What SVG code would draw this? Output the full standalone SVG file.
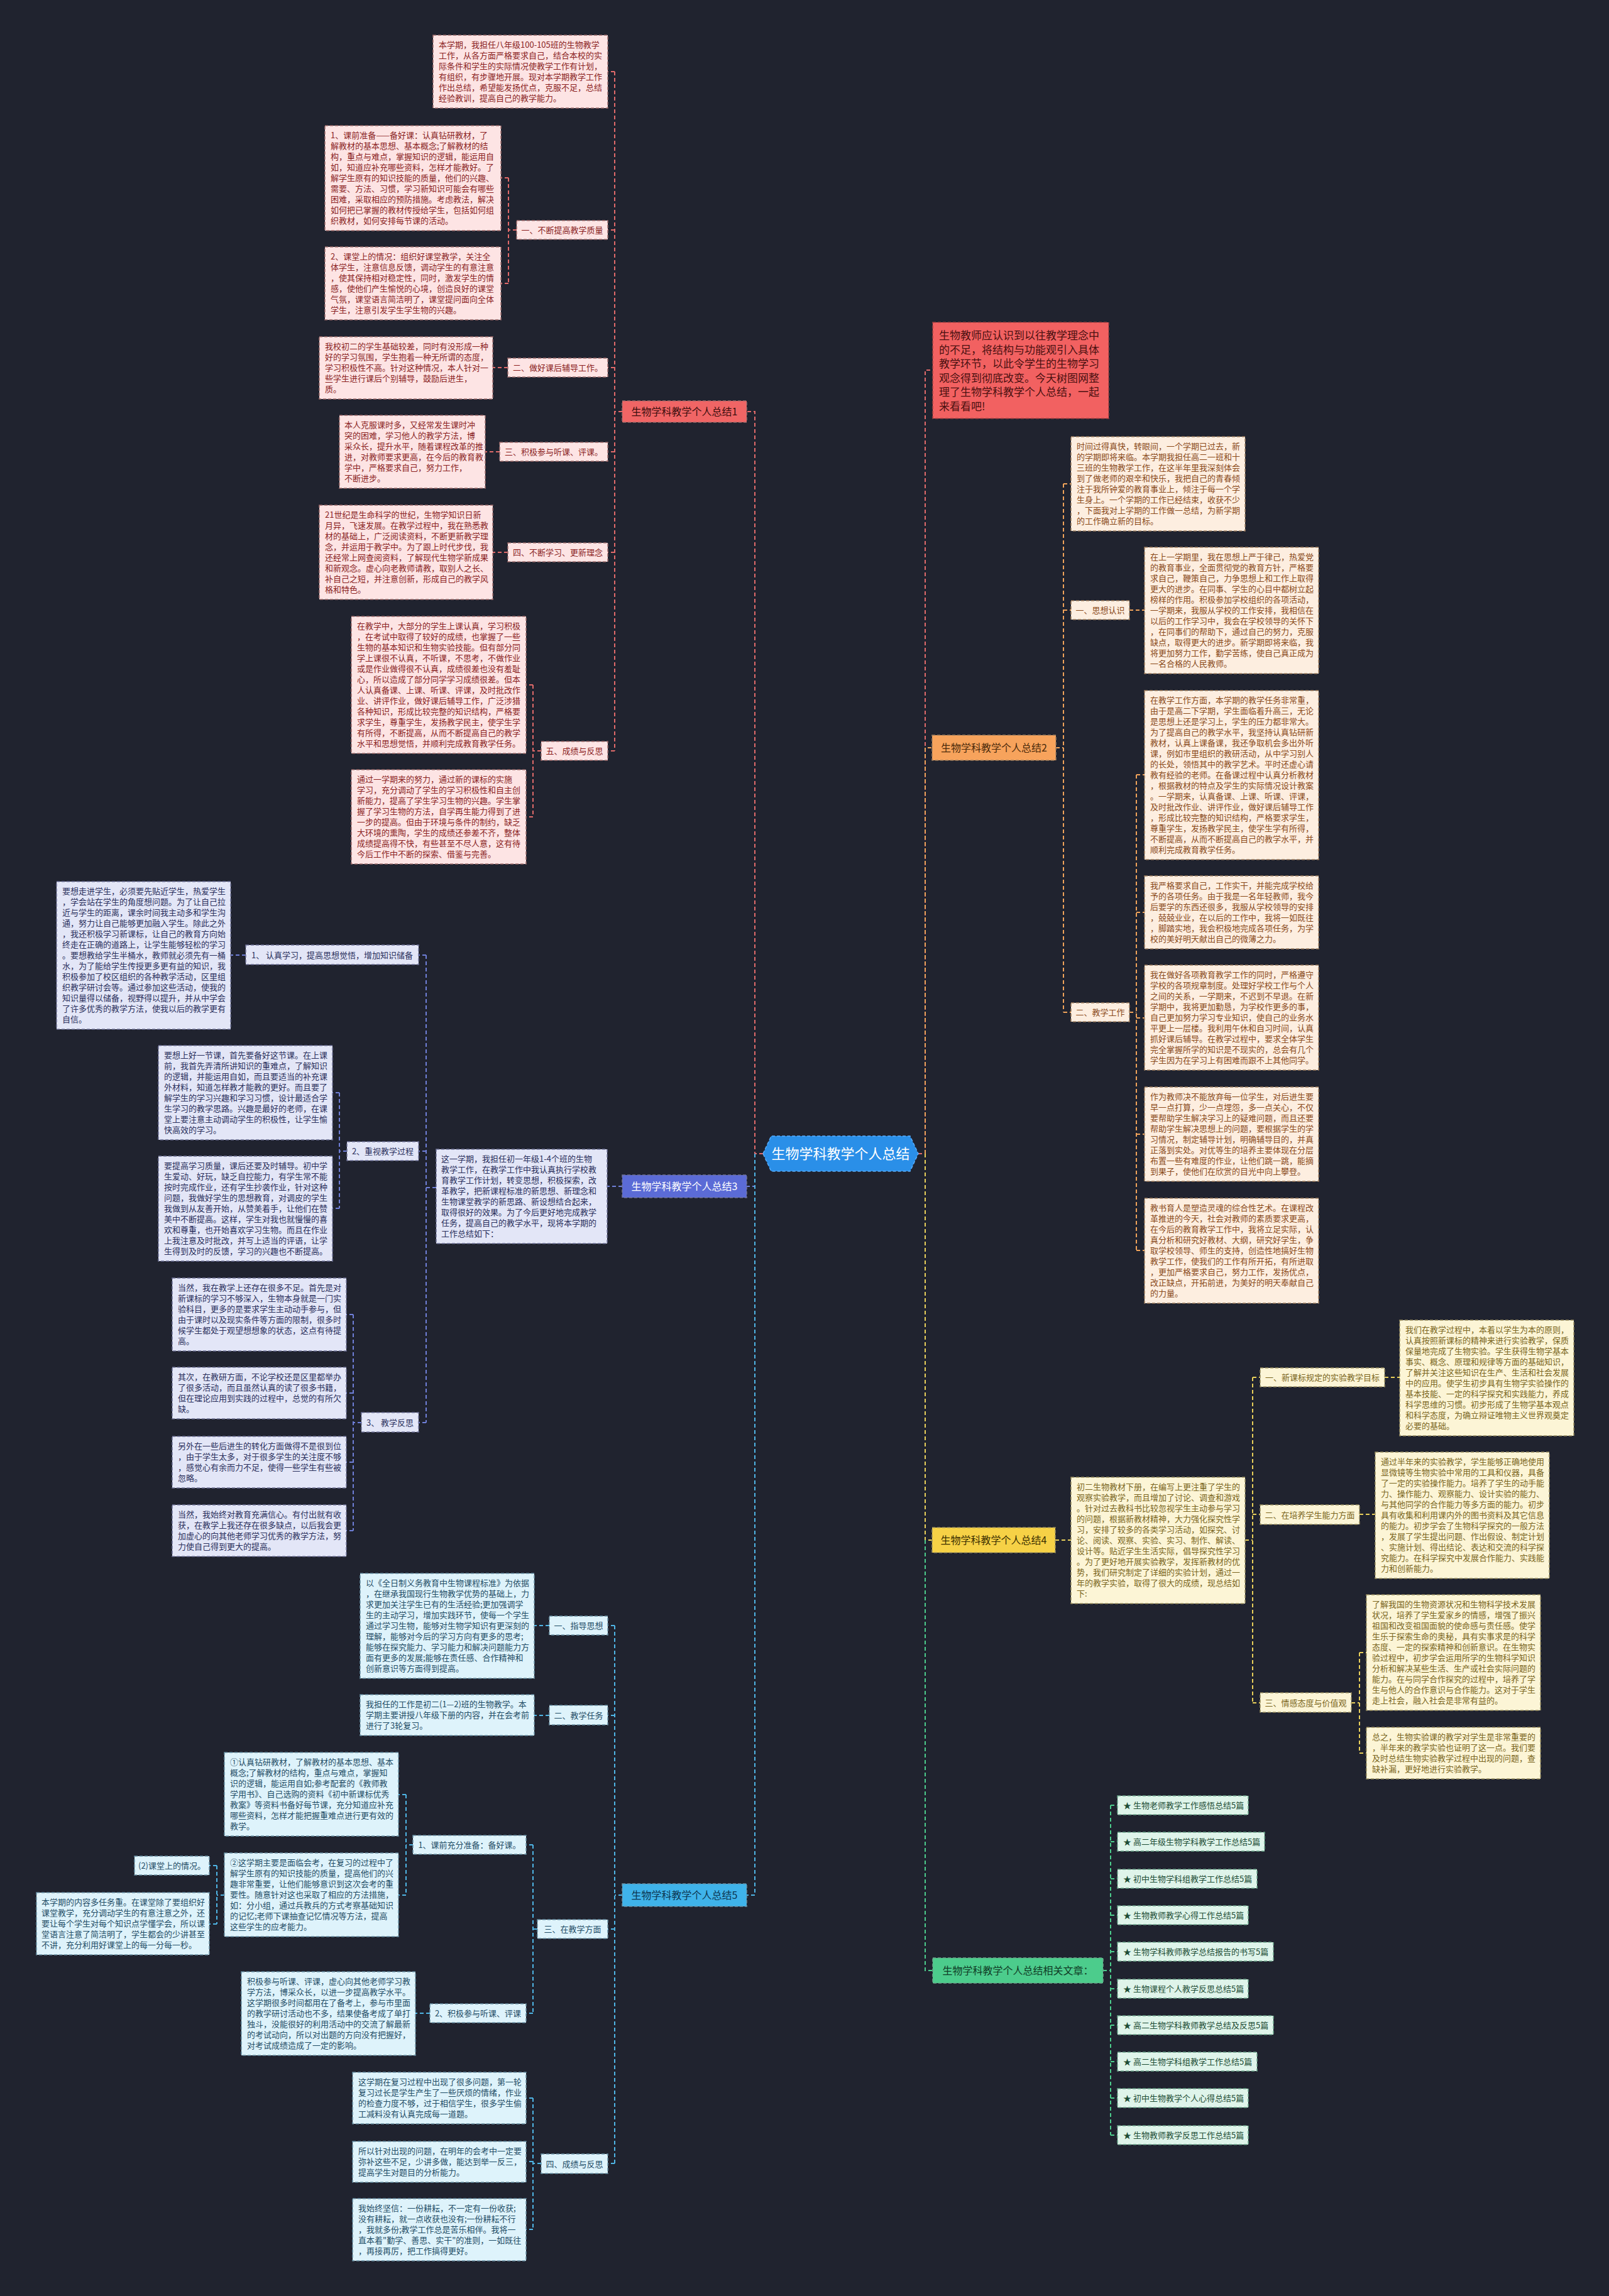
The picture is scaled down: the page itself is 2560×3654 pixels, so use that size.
<svg xmlns="http://www.w3.org/2000/svg" width="2560" height="3654" viewBox="0 0 2560 3654">
<style>
text{font-family:"Noto Sans CJK SC","Noto Sans",sans-serif;font-size:13px}
.c{fill:none;stroke-width:2;stroke-dasharray:6 4}
.c1{stroke:#e06a6a}.c2{stroke:#f0a35a}.c3{stroke:#6f7fd8}.c4{stroke:#e8cf5a}.c5{stroke:#4fb5e5}.c6{stroke:#4ccc8c}
rect{stroke-width:1.5;stroke-dasharray:5 3}
.n1 rect{fill:#fde4e4;stroke:#a06e6e}.n1 text{fill:#8b1f1f}
.n2 rect{fill:#fdeee0;stroke:#a08060}.n2 text{fill:#8a4a1a}
.n3 rect{fill:#e3e6f7;stroke:#70749a}.n3 text{fill:#2a2f5c}
.n4 rect{fill:#fcf5d6;stroke:#9a9060}.n4 text{fill:#7a6520}
.n5 rect{fill:#def3fb;stroke:#6a93a6}.n5 text{fill:#1f4d66}
.n6 rect{fill:#dff4ea;stroke:#6aa68a}.n6 text{fill:#1d4d35}
.m text{font-size:16px;text-anchor:middle}
.lab text{text-anchor:middle}
</style>
<rect x="0" y="0" width="2560" height="3654" fill="#20232f" style="stroke:none"/>
<g id="connectors">
<path class="c c1" d="M1214 1836 H1201 V655 H1188 M990 655 H978 M978 114 V1195 M978 114 H967 M978 366 H967 M978 585 H967 M978 719 H967 M978 879 H967 M978 1195 H967 M822 366 H809 M809 283 V451 M809 283 H797 M809 451 H797 M808 585 H784 M795 719 H772 M808 879 H784 M861 1195 H848 M848 1090 V1300 M848 1090 H837 M848 1300 H837"/>
<path class="c c3" d="M1201 1836 V1888 H1188 M990 1888 H966 M694 1890 H678 M678 1520 V2264 M678 1520 H666 M678 1832 H666 M678 2264 H666 M391 1520 H367 M552 1832 H540 M540 1739 V1923 M540 1739 H529 M540 1923 H529 M575 2264 H562 M562 2092 V2436 M562 2092 H551 M562 2217 H551 M562 2327 H551 M562 2436 H551"/>
<path class="c c5" d="M1201 1836 V3016 H1188 M990 3016 H978 M978 2587 V3443 M978 2587 H967 M978 2730 H967 M978 3070 H967 M978 3443 H967 M874 2587 H850 M874 2730 H850 M855 3070 H848 M848 2936 V3204 M848 2936 H837 M848 3204 H837 M657 2936 H646 M646 2856 V3016 M646 2856 H634 M646 3016 H634 M357 3016 H345 M345 2969 V3062 M345 2969 H333 M345 3062 H333 M684 3204 H661 M861 3443 H848 M848 3339 V3548 M848 3339 H837 M848 3440 H837 M848 3548 H837"/>
<path class="c c1" d="M1461 1836 H1472 V589 H1484"/>
<path class="c c2" d="M1472 1836 V1190 H1483 M1680 1190 H1692 M1692 770 V1611 M1692 770 H1704 M1692 971 H1704 M1692 1611 H1704 M1797 971 H1821 M1797 1611 H1808 M1808 1233 V1990 M1808 1233 H1821 M1808 1452 H1821 M1808 1620 H1821 M1808 1805 H1821 M1808 1990 H1821"/>
<path class="c c4" d="M1472 1836 V2451 H1483 M1679 2451 H1704 M1981 2451 H1993 M1993 2192 V2710 M1993 2192 H2005 M1993 2410 H2005 M1993 2710 H2005 M2203 2192 H2227 M2163 2410 H2188 M2150 2710 H2163 M2163 2630 V2790 M2163 2630 H2174 M2163 2790 H2174"/>
<path class="c c6" d="M1472 2451 V3136 H1484 M1755 3136 H1767 M1767 2873 V3398 M1767 2873 H1778 M1767 2931 H1778 M1767 2990 H1778 M1767 3048 H1778 M1767 3106 H1778 M1767 3165 H1778 M1767 3223 H1778 M1767 3281 H1778 M1767 3339 H1778 M1767 3398 H1778"/>
</g>

<g id="root">
<polygon points="1214,1836 1227,1808 1448,1808 1461,1836 1448,1864 1227,1864" fill="#2a8fe8" stroke="#5ab0ff" stroke-width="1.5" stroke-dasharray="5 3"/>
<text x="1337.5" y="1844" fill="#ffffff" text-anchor="middle" style="font-size:22px">生物学科教学个人总结</text>
</g>

<!-- Branch 1 -->
<g id="b1" class="n1 m"><rect x="990" y="638" width="198" height="34" style="fill:#f06565"/><text x="1089" y="661" style="fill:#3a0d0d">生物学科教学个人总结1</text></g>
<g id="b1-intro" class="n1"><rect x="689" y="56" width="278" height="116"/><text x="698" y="76"><tspan x="698">本学期，我担任八年级100-105班的生物教学</tspan><tspan x="698" dy="17">工作，从各方面严格要求自己，结合本校的实</tspan><tspan x="698" dy="17">际条件和学生的实际情况使教学工作有计划，</tspan><tspan x="698" dy="17">有组织，有步骤地开展。现对本学期教学工作</tspan><tspan x="698" dy="17">作出总结，希望能发扬优点，克服不足，总结</tspan><tspan x="698" dy="17">经验教训，提高自己的教学能力。</tspan></text></g>
<g id="b1-l1" class="n1 lab"><rect x="822" y="351" width="145" height="30"/><text x="894.5" y="371">一、不断提高教学质量</text></g>
<g id="b1-l1a" class="n1"><rect x="517" y="200" width="280" height="167"/><text x="526" y="220"><tspan x="526">1、课前准备——备好课：认真钻研教材，了</tspan><tspan x="526" dy="17">解教材的基本思想、基本概念;了解教材的结</tspan><tspan x="526" dy="17">构，重点与难点，掌握知识的逻辑，能运用自</tspan><tspan x="526" dy="17">如，知道应补充哪些资料，怎样才能教好。了</tspan><tspan x="526" dy="17">解学生原有的知识技能的质量，他们的兴趣、</tspan><tspan x="526" dy="17">需要、方法、习惯，学习新知识可能会有哪些</tspan><tspan x="526" dy="17">困难，采取相应的预防措施。考虑教法，解决</tspan><tspan x="526" dy="17">如何把已掌握的教材传授给学生，包括如何组</tspan><tspan x="526" dy="17">织教材，如何安排每节课的活动。</tspan></text></g>
<g id="b1-l1b" class="n1"><rect x="517" y="393" width="280" height="116"/><text x="526" y="413"><tspan x="526">2、课堂上的情况：组织好课堂教学，关注全</tspan><tspan x="526" dy="17">体学生，注意信息反馈，调动学生的有意注意</tspan><tspan x="526" dy="17">，使其保持相对稳定性，同时，激发学生的情</tspan><tspan x="526" dy="17">感，使他们产生愉悦的心境，创造良好的课堂</tspan><tspan x="526" dy="17">气氛，课堂语言简洁明了，课堂提问面向全体</tspan><tspan x="526" dy="17">学生，注意引发学生学生物的兴趣。</tspan></text></g>
<g id="b1-l2" class="n1 lab"><rect x="808" y="570" width="159" height="30"/><text x="887.5" y="590">二、做好课后辅导工作。</text></g>
<g id="b1-l2a" class="n1"><rect x="508" y="536" width="276" height="99"/><text x="517" y="556"><tspan x="517">我校初二的学生基础较差，同时有没形成一种</tspan><tspan x="517" dy="17">好的学习氛围，学生抱着一种无所谓的态度，</tspan><tspan x="517" dy="17">学习积极性不高。针对这种情况，本人针对一</tspan><tspan x="517" dy="17">些学生进行课后个别辅导，鼓励后进生，</tspan><tspan x="517" dy="17">质。</tspan></text></g>
<g id="b1-l3" class="n1 lab"><rect x="795" y="704" width="172" height="30"/><text x="881" y="724">三、积极参与听课、评课。</text></g>
<g id="b1-l3a" class="n1"><rect x="540" y="661" width="232" height="116"/><text x="548" y="681"><tspan x="548">本人克服课时多，又经常发生课时冲</tspan><tspan x="548" dy="17">突的困难，学习他人的教学方法，博</tspan><tspan x="548" dy="17">采众长，提升水平，随着课程改革的推</tspan><tspan x="548" dy="17">进，对教师要求更高，在今后的教育教</tspan><tspan x="548" dy="17">学中，严格要求自己，努力工作，</tspan><tspan x="548" dy="17">不断进步。</tspan></text></g>
<g id="b1-l4" class="n1 lab"><rect x="808" y="864" width="159" height="30"/><text x="887.5" y="884">四、不断学习、更新理念</text></g>
<g id="b1-l4a" class="n1"><rect x="508" y="804" width="276" height="150"/><text x="517" y="824"><tspan x="517">21世纪是生命科学的世纪，生物学知识日新</tspan><tspan x="517" dy="17">月异，飞速发展。在教学过程中，我在熟悉教</tspan><tspan x="517" dy="17">材的基础上，广泛阅读资料，不断更新教学理</tspan><tspan x="517" dy="17">念，并运用于教学中。为了跟上时代步伐，我</tspan><tspan x="517" dy="17">还经常上网查阅资料，了解现代生物学新成果</tspan><tspan x="517" dy="17">和新观念。虚心向老教师请教，取别人之长、</tspan><tspan x="517" dy="17">补自己之短，并注意创新，形成自己的教学风</tspan><tspan x="517" dy="17">格和特色。</tspan></text></g>
<g id="b1-l5" class="n1 lab"><rect x="861" y="1180" width="106" height="30"/><text x="914" y="1200">五、成绩与反思</text></g>
<g id="b1-l5a" class="n1"><rect x="559" y="981" width="278" height="218"/><text x="568" y="1001"><tspan x="568">在教学中，大部分的学生上课认真，学习积极</tspan><tspan x="568" dy="17">，在考试中取得了较好的成绩，也掌握了一些</tspan><tspan x="568" dy="17">生物的基本知识和生物实验技能。但有部分同</tspan><tspan x="568" dy="17">学上课很不认真，不听课，不思考，不做作业</tspan><tspan x="568" dy="17">或是作业做得很不认真，成绩很差也没有羞耻</tspan><tspan x="568" dy="17">心，所以造成了部分同学学习成绩很差。但本</tspan><tspan x="568" dy="17">人认真备课、上课、听课、评课，及时批改作</tspan><tspan x="568" dy="17">业、讲评作业，做好课后辅导工作，广泛涉猎</tspan><tspan x="568" dy="17">各种知识，形成比较完整的知识结构，严格要</tspan><tspan x="568" dy="17">求学生，尊重学生，发扬教学民主，使学生学</tspan><tspan x="568" dy="17">有所得，不断提高，从而不断提高自己的教学</tspan><tspan x="568" dy="17">水平和思想觉悟，并顺利完成教育教学任务。</tspan></text></g>
<g id="b1-l5b" class="n1"><rect x="559" y="1225" width="278" height="150"/><text x="568" y="1245"><tspan x="568">通过一学期来的努力，通过新的课标的实施</tspan><tspan x="568" dy="17">学习，充分调动了学生的学习积极性和自主创</tspan><tspan x="568" dy="17">新能力，提高了学生学习生物的兴趣。学生掌</tspan><tspan x="568" dy="17">握了学习生物的方法，自学再生能力得到了进</tspan><tspan x="568" dy="17">一步的提高。但由于环境与条件的制约，缺乏</tspan><tspan x="568" dy="17">大环境的熏陶，学生的成绩还参差不齐，整体</tspan><tspan x="568" dy="17">成绩提高得不快，有些甚至不尽人意，这有待</tspan><tspan x="568" dy="17">今后工作中不断的探索、借鉴与完善。</tspan></text></g>

<!-- Right intro -->
<g id="intro"><rect x="1484" y="513" width="280" height="153" style="fill:#f26161;stroke:#a04040"/><text x="1494" y="540" style="font-size:17px;fill:#4a1010"><tspan x="1494">生物教师应认识到以往教学理念中</tspan><tspan x="1494" dy="22.5">的不足，将结构与功能观引入具体</tspan><tspan x="1494" dy="22.5">教学环节，以此令学生的生物学习</tspan><tspan x="1494" dy="22.5">观念得到彻底改变。今天树图网整</tspan><tspan x="1494" dy="22.5">理了生物学科教学个人总结，一起</tspan><tspan x="1494" dy="22.5">来看看吧!</tspan></text></g>

<!-- Branch 2 -->
<g id="b2" class="n2 m"><rect x="1483" y="1170" width="197" height="40" style="fill:#f7a35c"/><text x="1581.5" y="1196" style="fill:#4a2a0a">生物学科教学个人总结2</text></g>
<g id="b2-intro" class="n2"><rect x="1704" y="695" width="277" height="150"/><text x="1713" y="715"><tspan x="1713">时间过得真快，转眼间，一个学期已过去，新</tspan><tspan x="1713" dy="17">的学期即将来临。本学期我担任高二一班和十</tspan><tspan x="1713" dy="17">三班的生物教学工作，在这半年里我深刻体会</tspan><tspan x="1713" dy="17">到了做老师的艰辛和快乐，我把自己的青春倾</tspan><tspan x="1713" dy="17">注于我所钟爱的教育事业上，倾注于每一个学</tspan><tspan x="1713" dy="17">生身上。一个学期的工作已经结束，收获不少</tspan><tspan x="1713" dy="17">，下面我对上学期的工作做一总结，为新学期</tspan><tspan x="1713" dy="17">的工作确立新的目标。</tspan></text></g>
<g id="b2-l1" class="n2 lab"><rect x="1704" y="956" width="93" height="30"/><text x="1750.5" y="976">一、思想认识</text></g>
<g id="b2-l1a" class="n2"><rect x="1821" y="871" width="277" height="201"/><text x="1830" y="891"><tspan x="1830">在上一学期里，我在思想上严于律己，热爱党</tspan><tspan x="1830" dy="17">的教育事业，全面贯彻党的教育方针，严格要</tspan><tspan x="1830" dy="17">求自己，鞭策自己，力争思想上和工作上取得</tspan><tspan x="1830" dy="17">更大的进步。在同事、学生的心目中都树立起</tspan><tspan x="1830" dy="17">榜样的作用。积极参加学校组织的各项活动，</tspan><tspan x="1830" dy="17">一学期来，我服从学校的工作安排，我相信在</tspan><tspan x="1830" dy="17">以后的工作学习中，我会在学校领导的关怀下</tspan><tspan x="1830" dy="17">，在同事们的帮助下，通过自己的努力，克服</tspan><tspan x="1830" dy="17">缺点，取得更大的进步。新学期即将来临，我</tspan><tspan x="1830" dy="17">将更加努力工作，勤学苦练，使自己真正成为</tspan><tspan x="1830" dy="17">一名合格的人民教师。</tspan></text></g>
<g id="b2-l2" class="n2 lab"><rect x="1704" y="1596" width="93" height="30"/><text x="1750.5" y="1616">二、教学工作</text></g>
<g id="b2-l2a" class="n2"><rect x="1821" y="1099" width="277" height="269"/><text x="1830" y="1119"><tspan x="1830">在教学工作方面，本学期的教学任务非常重，</tspan><tspan x="1830" dy="17">由于是高二下学期，学生面临着升高三，无论</tspan><tspan x="1830" dy="17">是思想上还是学习上，学生的压力都非常大。</tspan><tspan x="1830" dy="17">为了提高自己的教学水平，我坚持认真钻研新</tspan><tspan x="1830" dy="17">教材，认真上课备课，我还争取机会多出外听</tspan><tspan x="1830" dy="17">课，例如市里组织的教研活动，从中学习别人</tspan><tspan x="1830" dy="17">的长处，领悟其中的教学艺术。平时还虚心请</tspan><tspan x="1830" dy="17">教有经验的老师。在备课过程中认真分析教材</tspan><tspan x="1830" dy="17">，根据教材的特点及学生的实际情况设计教案</tspan><tspan x="1830" dy="17">。一学期来，认真备课、上课、听课、评课，</tspan><tspan x="1830" dy="17">及时批改作业、讲评作业，做好课后辅导工作</tspan><tspan x="1830" dy="17">，形成比较完整的知识结构，严格要求学生，</tspan><tspan x="1830" dy="17">尊重学生，发扬教学民主，使学生学有所得，</tspan><tspan x="1830" dy="17">不断提高，从而不断提高自己的教学水平，并</tspan><tspan x="1830" dy="17">顺利完成教育教学任务。</tspan></text></g>
<g id="b2-l2b" class="n2"><rect x="1821" y="1394" width="277" height="116"/><text x="1830" y="1414"><tspan x="1830">我严格要求自己，工作实干，并能完成学校给</tspan><tspan x="1830" dy="17">予的各项任务。由于我是一名年轻教师，我今</tspan><tspan x="1830" dy="17">后要学的东西还很多，我服从学校领导的安排</tspan><tspan x="1830" dy="17">，兢兢业业，在以后的工作中，我将一如既往</tspan><tspan x="1830" dy="17">，脚踏实地，我会积极地完成各项任务，为学</tspan><tspan x="1830" dy="17">校的美好明天献出自己的微薄之力。</tspan></text></g>
<g id="b2-l2c" class="n2"><rect x="1821" y="1536" width="277" height="167"/><text x="1830" y="1556"><tspan x="1830">我在做好各项教育教学工作的同时，严格遵守</tspan><tspan x="1830" dy="17">学校的各项规章制度。处理好学校工作与个人</tspan><tspan x="1830" dy="17">之间的关系，一学期来，不迟到不早退。在新</tspan><tspan x="1830" dy="17">学期中，我将更加勤恳，为学校作更多的事，</tspan><tspan x="1830" dy="17">自己更加努力学习专业知识，使自己的业务水</tspan><tspan x="1830" dy="17">平更上一层楼。我利用午休和自习时间，认真</tspan><tspan x="1830" dy="17">抓好课后辅导。在教学过程中，要求全体学生</tspan><tspan x="1830" dy="17">完全掌握所学的知识是不现实的，总会有几个</tspan><tspan x="1830" dy="17">学生因为在学习上有困难而跟不上其他同学。</tspan></text></g>
<g id="b2-l2d" class="n2"><rect x="1821" y="1730" width="277" height="150"/><text x="1830" y="1750"><tspan x="1830">作为教师决不能放弃每一位学生，对后进生要</tspan><tspan x="1830" dy="17">早一点打算，少一点埋怨，多一点关心，不仅</tspan><tspan x="1830" dy="17">要帮助学生解决学习上的疑难问题，而且还要</tspan><tspan x="1830" dy="17">帮助学生解决思想上的问题，要根据学生的学</tspan><tspan x="1830" dy="17">习情况，制定辅导计划，明确辅导目的，并真</tspan><tspan x="1830" dy="17">正落到实处。对优等生的培养主要体现在分层</tspan><tspan x="1830" dy="17">布置一些有难度的作业，让他们跳一跳，能摘</tspan><tspan x="1830" dy="17">到果子，使他们在欣赏的目光中向上攀登。</tspan></text></g>
<g id="b2-l2e" class="n2"><rect x="1821" y="1907" width="277" height="167"/><text x="1830" y="1927"><tspan x="1830">教书育人是塑造灵魂的综合性艺术。在课程改</tspan><tspan x="1830" dy="17">革推进的今天，社会对教师的素质要求更高，</tspan><tspan x="1830" dy="17">在今后的教育教学工作中，我将立足实际，认</tspan><tspan x="1830" dy="17">真分析和研究好教材、大纲，研究好学生，争</tspan><tspan x="1830" dy="17">取学校领导、师生的支持，创造性地搞好生物</tspan><tspan x="1830" dy="17">教学工作，使我们的工作有所开拓，有所进取</tspan><tspan x="1830" dy="17">，更加严格要求自己，努力工作，发扬优点，</tspan><tspan x="1830" dy="17">改正缺点，开拓前进，为美好的明天奉献自己</tspan><tspan x="1830" dy="17">的力量。</tspan></text></g>

<!-- Branch 3 -->
<g id="b3" class="n3 m"><rect x="990" y="1870" width="198" height="36" style="fill:#5b6bd6"/><text x="1089" y="1894" style="fill:#ffffff">生物学科教学个人总结3</text></g>
<g id="b3-intro" class="n3"><rect x="694" y="1829" width="272" height="150"/><text x="702" y="1849"><tspan x="702">这一学期，我担任初一年级1-4个班的生物</tspan><tspan x="702" dy="17">教学工作，在教学工作中我认真执行学校教</tspan><tspan x="702" dy="17">育教学工作计划，转变思想，积极探索，改</tspan><tspan x="702" dy="17">革教学，把新课程标准的新思想、新理念和</tspan><tspan x="702" dy="17">生物课堂教学的新思路、新设想结合起来，</tspan><tspan x="702" dy="17">取得很好的效果。为了今后更好地完成教学</tspan><tspan x="702" dy="17">任务，提高自己的教学水平，现将本学期的</tspan><tspan x="702" dy="17">工作总结如下：</tspan></text></g>
<g id="b3-l1" class="n3 lab"><rect x="391" y="1504" width="275" height="31"/><text x="528.5" y="1525">1、 认真学习，提高思想觉悟，增加知识储备</text></g>
<g id="b3-l1a" class="n3"><rect x="90" y="1403" width="277" height="235"/><text x="99" y="1423"><tspan x="99">要想走进学生，必须要先贴近学生，热爱学生</tspan><tspan x="99" dy="17">，学会站在学生的角度想问题。为了让自己拉</tspan><tspan x="99" dy="17">近与学生的距离，课余时间我主动多和学生沟</tspan><tspan x="99" dy="17">通，努力让自己能够更加融入学生。除此之外</tspan><tspan x="99" dy="17">，我还积极学习新课标，让自己的教育方向始</tspan><tspan x="99" dy="17">终走在正确的道路上，让学生能够轻松的学习</tspan><tspan x="99" dy="17">。要想教给学生半桶水，教师就必须先有一桶</tspan><tspan x="99" dy="17">水，为了能给学生传授更多更有益的知识，我</tspan><tspan x="99" dy="17">积极参加了校区组织的各种教学活动，区里组</tspan><tspan x="99" dy="17">织教学研讨会等。通过参加这些活动，使我的</tspan><tspan x="99" dy="17">知识量得以储备，视野得以提升，并从中学会</tspan><tspan x="99" dy="17">了许多优秀的教学方法，使我以后的教学更有</tspan><tspan x="99" dy="17">自信。</tspan></text></g>
<g id="b3-l2" class="n3 lab"><rect x="552" y="1817" width="114" height="30"/><text x="609" y="1837">2、重视教学过程</text></g>
<g id="b3-l2a" class="n3"><rect x="252" y="1664" width="277" height="150"/><text x="261" y="1684"><tspan x="261">要想上好一节课，首先要备好这节课。在上课</tspan><tspan x="261" dy="17">前，我首先弄清所讲知识的重难点，了解知识</tspan><tspan x="261" dy="17">的逻辑，并能运用自如，而且要适当的补充课</tspan><tspan x="261" dy="17">外材料，知道怎样教才能教的更好。而且要了</tspan><tspan x="261" dy="17">解学生的学习兴趣和学习习惯，设计最适合学</tspan><tspan x="261" dy="17">生学习的教学思路。兴趣是最好的老师，在课</tspan><tspan x="261" dy="17">堂上要注意主动调动学生的积极性，让学生愉</tspan><tspan x="261" dy="17">快高效的学习。</tspan></text></g>
<g id="b3-l2b" class="n3"><rect x="252" y="1840" width="277" height="167"/><text x="261" y="1860"><tspan x="261">要提高学习质量，课后还要及时辅导。初中学</tspan><tspan x="261" dy="17">生爱动、好玩，缺乏自控能力，有学生常不能</tspan><tspan x="261" dy="17">按时完成作业，还有学生抄袭作业，针对这种</tspan><tspan x="261" dy="17">问题，我做好学生的思想教育，对调皮的学生</tspan><tspan x="261" dy="17">我做到从友善开始，从赞美着手，让他们在赞</tspan><tspan x="261" dy="17">美中不断提高。这样，学生对我也就慢慢的喜</tspan><tspan x="261" dy="17">欢和尊重，也开始喜欢学习生物。而且在作业</tspan><tspan x="261" dy="17">上我注意及时批改，并写上适当的评语，让学</tspan><tspan x="261" dy="17">生得到及时的反馈，学习的兴趣也不断提高。</tspan></text></g>
<g id="b3-l3" class="n3 lab"><rect x="575" y="2248" width="91" height="31"/><text x="620.5" y="2269">3、 教学反思</text></g>
<g id="b3-l3a" class="n3"><rect x="274" y="2034" width="277" height="116"/><text x="283" y="2054"><tspan x="283">当然，我在教学上还存在很多不足。首先是对</tspan><tspan x="283" dy="17">新课标的学习不够深入，生物本身就是一门实</tspan><tspan x="283" dy="17">验科目，更多的是要求学生主动动手参与，但</tspan><tspan x="283" dy="17">由于课时以及现实条件等方面的限制，很多时</tspan><tspan x="283" dy="17">候学生都处于观望想想象的状态，这点有待提</tspan><tspan x="283" dy="17">高。</tspan></text></g>
<g id="b3-l3b" class="n3"><rect x="274" y="2176" width="277" height="82"/><text x="283" y="2196"><tspan x="283">其次，在教研方面，不论学校还是区里都举办</tspan><tspan x="283" dy="17">了很多活动，而且虽然认真的读了很多书籍，</tspan><tspan x="283" dy="17">但在理论应用到实践的过程中，总觉的有所欠</tspan><tspan x="283" dy="17">缺。</tspan></text></g>
<g id="b3-l3c" class="n3"><rect x="274" y="2286" width="277" height="82"/><text x="283" y="2306"><tspan x="283">另外在一些后进生的转化方面做得不是很到位</tspan><tspan x="283" dy="17">，由于学生太多，对于很多学生的关注度不够</tspan><tspan x="283" dy="17">，感觉心有余而力不足，使得一些学生有些被</tspan><tspan x="283" dy="17">忽略。</tspan></text></g>
<g id="b3-l3d" class="n3"><rect x="274" y="2395" width="277" height="82"/><text x="283" y="2415"><tspan x="283">当然，我始终对教育充满信心。有付出就有收</tspan><tspan x="283" dy="17">获，在教学上我还存在很多缺点，以后我会更</tspan><tspan x="283" dy="17">加虚心的向其他老师学习优秀的教学方法，努</tspan><tspan x="283" dy="17">力使自己得到更大的提高。</tspan></text></g>

<!-- Branch 4 -->
<g id="b4" class="n4 m"><rect x="1483" y="2431" width="196" height="40" style="fill:#f6d146"/><text x="1581" y="2457" style="fill:#3a2e00">生物学科教学个人总结4</text></g>
<g id="b4-intro" class="n4"><rect x="1704" y="2351" width="277" height="201"/><text x="1713" y="2371"><tspan x="1713">初二生物教材下册，在编写上更注重了学生的</tspan><tspan x="1713" dy="17">观察实验教学，而且增加了讨论、调查和游戏</tspan><tspan x="1713" dy="17">。针对过去教科书比较忽视学生主动参与学习</tspan><tspan x="1713" dy="17">的问题，根据新教材精神，大力强化探究性学</tspan><tspan x="1713" dy="17">习，安排了较多的各类学习活动，如探究、讨</tspan><tspan x="1713" dy="17">论、阅读、观察、实验、实习、制作、解读、</tspan><tspan x="1713" dy="17">设计等。贴近学生生活实际，倡导探究性学习</tspan><tspan x="1713" dy="17">。为了更好地开展实验教学，发挥新教材的优</tspan><tspan x="1713" dy="17">势，我们研究制定了详细的实验计划，通过一</tspan><tspan x="1713" dy="17">年的教学实验，取得了很大的成绩，现总结如</tspan><tspan x="1713" dy="17">下:</tspan></text></g>
<g id="b4-l1" class="n4 lab"><rect x="2005" y="2177" width="198" height="30"/><text x="2104" y="2197">一、新课标规定的实验教学目标</text></g>
<g id="b4-l1a" class="n4"><rect x="2227" y="2101" width="277" height="184"/><text x="2236" y="2121"><tspan x="2236">我们在教学过程中，本着以学生为本的原则，</tspan><tspan x="2236" dy="17">认真按照新课标的精神来进行实验教学，保质</tspan><tspan x="2236" dy="17">保量地完成了生物实验。学生获得生物学基本</tspan><tspan x="2236" dy="17">事实、概念、原理和规律等方面的基础知识，</tspan><tspan x="2236" dy="17">了解并关注这些知识在生产、生活和社会发展</tspan><tspan x="2236" dy="17">中的应用。使学生初步具有生物学实验操作的</tspan><tspan x="2236" dy="17">基本技能、一定的科学探究和实践能力，养成</tspan><tspan x="2236" dy="17">科学思维的习惯。初步形成了生物学基本观点</tspan><tspan x="2236" dy="17">和科学态度，为确立辩证唯物主义世界观奠定</tspan><tspan x="2236" dy="17">必要的基础。</tspan></text></g>
<g id="b4-l2" class="n4 lab"><rect x="2005" y="2395" width="158" height="31"/><text x="2084" y="2416">二、在培养学生能力方面</text></g>
<g id="b4-l2a" class="n4"><rect x="2188" y="2311" width="277" height="201"/><text x="2197" y="2331"><tspan x="2197">通过半年来的实验教学，学生能够正确地使用</tspan><tspan x="2197" dy="17">显微镜等生物实验中常用的工具和仪器，具备</tspan><tspan x="2197" dy="17">了一定的实验操作能力。培养了学生的动手能</tspan><tspan x="2197" dy="17">力、操作能力、观察能力、设计实验的能力、</tspan><tspan x="2197" dy="17">与其他同学的合作能力等多方面的能力。初步</tspan><tspan x="2197" dy="17">具有收集和利用课内外的图书资料及其它信息</tspan><tspan x="2197" dy="17">的能力。初步学会了生物科学探究的一般方法</tspan><tspan x="2197" dy="17">，发展了学生提出问题、作出假设、制定计划</tspan><tspan x="2197" dy="17">、实施计划、得出结论、表达和交流的科学探</tspan><tspan x="2197" dy="17">究能力。在科学探究中发展合作能力、实践能</tspan><tspan x="2197" dy="17">力和创新能力。</tspan></text></g>
<g id="b4-l3" class="n4 lab"><rect x="2005" y="2694" width="145" height="31"/><text x="2077.5" y="2715">三、情感态度与价值观</text></g>
<g id="b4-l3a" class="n4"><rect x="2174" y="2538" width="277" height="184"/><text x="2183" y="2558"><tspan x="2183">了解我国的生物资源状况和生物科学技术发展</tspan><tspan x="2183" dy="17">状况，培养了学生爱家乡的情感，增强了振兴</tspan><tspan x="2183" dy="17">祖国和改变祖国面貌的使命感与责任感。使学</tspan><tspan x="2183" dy="17">生乐于探索生命的奥秘，具有实事求是的科学</tspan><tspan x="2183" dy="17">态度、一定的探索精神和创新意识。在生物实</tspan><tspan x="2183" dy="17">验过程中，初步学会运用所学的生物科学知识</tspan><tspan x="2183" dy="17">分析和解决某些生活、生产或社会实际问题的</tspan><tspan x="2183" dy="17">能力。在与同学合作探究的过程中，培养了学</tspan><tspan x="2183" dy="17">生与他人的合作意识与合作能力。这对于学生</tspan><tspan x="2183" dy="17">走上社会，融入社会是非常有益的。</tspan></text></g>
<g id="b4-l3b" class="n4"><rect x="2174" y="2749" width="277" height="82"/><text x="2183" y="2769"><tspan x="2183">总之，生物实验课的教学对学生是非常重要的</tspan><tspan x="2183" dy="17">，半年来的教学实验也证明了这一点。我们要</tspan><tspan x="2183" dy="17">及时总结生物实验教学过程中出现的问题，查</tspan><tspan x="2183" dy="17">缺补漏，更好地进行实验教学。</tspan></text></g>

<!-- Branch 5 -->
<g id="b5" class="n5 m"><rect x="990" y="2998" width="198" height="36" style="fill:#3fb3ea"/><text x="1089" y="3022" style="fill:#0c3550">生物学科教学个人总结5</text></g>
<g id="b5-l1" class="n5 lab"><rect x="874" y="2572" width="93" height="30"/><text x="920.5" y="2592">一、指导思想</text></g>
<g id="b5-l1a" class="n5"><rect x="573" y="2504" width="277" height="167"/><text x="582" y="2524"><tspan x="582">以《全日制义务教育中生物课程标准》为依据</tspan><tspan x="582" dy="17">，在继承我国现行生物教学优势的基础上，力</tspan><tspan x="582" dy="17">求更加关注学生已有的生活经验;更加强调学</tspan><tspan x="582" dy="17">生的主动学习，增加实践环节，使每一个学生</tspan><tspan x="582" dy="17">通过学习生物，能够对生物学知识有更深刻的</tspan><tspan x="582" dy="17">理解，能够对今后的学习方向有更多的思考;</tspan><tspan x="582" dy="17">能够在探究能力、学习能力和解决问题能力方</tspan><tspan x="582" dy="17">面有更多的发展;能够在责任感、合作精神和</tspan><tspan x="582" dy="17">创新意识等方面得到提高。</tspan></text></g>
<g id="b5-l2" class="n5 lab"><rect x="874" y="2714" width="93" height="31"/><text x="920.5" y="2735">二、教学任务</text></g>
<g id="b5-l2a" class="n5"><rect x="573" y="2697" width="277" height="65"/><text x="582" y="2717"><tspan x="582">我担任的工作是初二(1—2)班的生物教学。本</tspan><tspan x="582" dy="17">学期主要讲授八年级下册的内容，并在会考前</tspan><tspan x="582" dy="17">进行了3轮复习。</tspan></text></g>
<g id="b5-l3" class="n5 lab"><rect x="855" y="3055" width="112" height="30"/><text x="911" y="3075">三、在教学方面</text></g>
<g id="b5-l31" class="n5 lab"><rect x="657" y="2921" width="180" height="30"/><text x="747" y="2941">1、课前充分准备：备好课。</text></g>
<g id="b5-l31a" class="n5"><rect x="357" y="2789" width="277" height="133"/><text x="366" y="2809"><tspan x="366">①认真钻研教材，了解教材的基本思想、基本</tspan><tspan x="366" dy="17">概念;了解教材的结构，重点与难点，掌握知</tspan><tspan x="366" dy="17">识的逻辑，能运用自如;参考配套的《教师教</tspan><tspan x="366" dy="17">学用书》、自己选购的资料《初中新课标优秀</tspan><tspan x="366" dy="17">教案》等资料书备好每节课，充分知道应补充</tspan><tspan x="366" dy="17">哪些资料，怎样才能把握重难点进行更有效的</tspan><tspan x="366" dy="17">教学。</tspan></text></g>
<g id="b5-l31b" class="n5"><rect x="357" y="2949" width="277" height="133"/><text x="366" y="2969"><tspan x="366">②这学期主要是面临会考，在复习的过程中了</tspan><tspan x="366" dy="17">解学生原有的知识技能的质量，提高他们的兴</tspan><tspan x="366" dy="17">趣非常重要，让他们能够意识到这次会考的重</tspan><tspan x="366" dy="17">要性。随意针对这也采取了相应的方法措施，</tspan><tspan x="366" dy="17">如：分小组，通过兵教兵的方式考察基础知识</tspan><tspan x="366" dy="17">的记忆;老师下课抽查记忆情况等方法，提高</tspan><tspan x="366" dy="17">这些学生的应考能力。</tspan></text></g>
<g id="b5-l31c" class="n5 lab"><rect x="214" y="2954" width="119" height="30"/><text x="273.5" y="2974">(2)课堂上的情况。</text></g>
<g id="b5-l31d" class="n5"><rect x="58" y="3012" width="275" height="99"/><text x="66" y="3032"><tspan x="66">本学期的内容多任务重。在课堂除了要组织好</tspan><tspan x="66" dy="17">课堂教学，充分调动学生的有意注意之外，还</tspan><tspan x="66" dy="17">要让每个学生对每个知识点学懂学会，所以课</tspan><tspan x="66" dy="17">堂语言注意了简洁明了，学生都会的少讲甚至</tspan><tspan x="66" dy="17">不讲，充分利用好课堂上的每一分每一秒。</tspan></text></g>
<g id="b5-l32" class="n5 lab"><rect x="684" y="3189" width="153" height="30"/><text x="760.5" y="3209">2、积极参与听课、评课</text></g>
<g id="b5-l32a" class="n5"><rect x="384" y="3138" width="277" height="133"/><text x="393" y="3158"><tspan x="393">积极参与听课、评课，虚心向其他老师学习教</tspan><tspan x="393" dy="17">学方法，博采众长，以进一步提高教学水平。</tspan><tspan x="393" dy="17">这学期很多时间都用在了备考上，参与市里面</tspan><tspan x="393" dy="17">的教学研讨活动也不多，结果使备考成了单打</tspan><tspan x="393" dy="17">独斗，没能很好的利用活动中的交流了解最新</tspan><tspan x="393" dy="17">的考试动向，所以对出题的方向没有把握好，</tspan><tspan x="393" dy="17">对考试成绩造成了一定的影响。</tspan></text></g>
<g id="b5-l4" class="n5 lab"><rect x="861" y="3428" width="106" height="31"/><text x="914" y="3449">四、成绩与反思</text></g>
<g id="b5-l4a" class="n5"><rect x="561" y="3298" width="276" height="82"/><text x="570" y="3318"><tspan x="570">这学期在复习过程中出现了很多问题，第一轮</tspan><tspan x="570" dy="17">复习过长是学生产生了一些厌烦的情绪，作业</tspan><tspan x="570" dy="17">的检查力度不够，过于相信学生，很多学生偷</tspan><tspan x="570" dy="17">工减料没有认真完成每一道题。</tspan></text></g>
<g id="b5-l4b" class="n5"><rect x="561" y="3408" width="276" height="65"/><text x="570" y="3428"><tspan x="570">所以针对出现的问题，在明年的会考中一定要</tspan><tspan x="570" dy="17">弥补这些不足，少讲多做，能达到举一反三，</tspan><tspan x="570" dy="17">提高学生对题目的分析能力。</tspan></text></g>
<g id="b5-l4c" class="n5"><rect x="561" y="3499" width="276" height="99"/><text x="570" y="3519"><tspan x="570">我始终坚信：一份耕耘，不一定有一份收获;</tspan><tspan x="570" dy="17">没有耕耘，就一点收获也没有;一份耕耘不行</tspan><tspan x="570" dy="17">，我就多份;教学工作总是苦乐相伴。我将一</tspan><tspan x="570" dy="17">直本着"勤学、善思、实干"的准则，一如既往</tspan><tspan x="570" dy="17">，再接再厉，把工作搞得更好。</tspan></text></g>

<!-- Branch 6 -->
<g id="b6" class="n6 m"><rect x="1484" y="3116" width="271" height="40" style="fill:#4ccc8c"/><text x="1619.5" y="3142" style="fill:#0f3a25">生物学科教学个人总结相关文章：</text></g>
<g id="b6-1" class="n6"><rect x="1778" y="2858" width="208" height="30"/><text x="1787" y="2878">★ 生物老师教学工作感悟总结5篇</text></g>
<g id="b6-2" class="n6"><rect x="1778" y="2916" width="234" height="30"/><text x="1787" y="2936">★ 高二年级生物学科教学工作总结5篇</text></g>
<g id="b6-3" class="n6"><rect x="1778" y="2975" width="222" height="30"/><text x="1787" y="2995">★ 初中生物学科组教学工作总结5篇</text></g>
<g id="b6-4" class="n6"><rect x="1778" y="3033" width="208" height="30"/><text x="1787" y="3053">★ 生物教师教学心得工作总结5篇</text></g>
<g id="b6-5" class="n6"><rect x="1778" y="3091" width="248" height="30"/><text x="1787" y="3111">★ 生物学科教师教学总结报告的书写5篇</text></g>
<g id="b6-6" class="n6"><rect x="1778" y="3150" width="208" height="30"/><text x="1787" y="3170">★ 生物课程个人教学反思总结5篇</text></g>
<g id="b6-7" class="n6"><rect x="1778" y="3208" width="248" height="30"/><text x="1787" y="3228">★ 高二生物学科教师教学总结及反思5篇</text></g>
<g id="b6-8" class="n6"><rect x="1778" y="3266" width="222" height="30"/><text x="1787" y="3286">★ 高二生物学科组教学工作总结5篇</text></g>
<g id="b6-9" class="n6"><rect x="1778" y="3324" width="208" height="30"/><text x="1787" y="3344">★ 初中生物教学个人心得总结5篇</text></g>
<g id="b6-10" class="n6"><rect x="1778" y="3383" width="208" height="30"/><text x="1787" y="3403">★ 生物教师教学反思工作总结5篇</text></g>
</svg>
